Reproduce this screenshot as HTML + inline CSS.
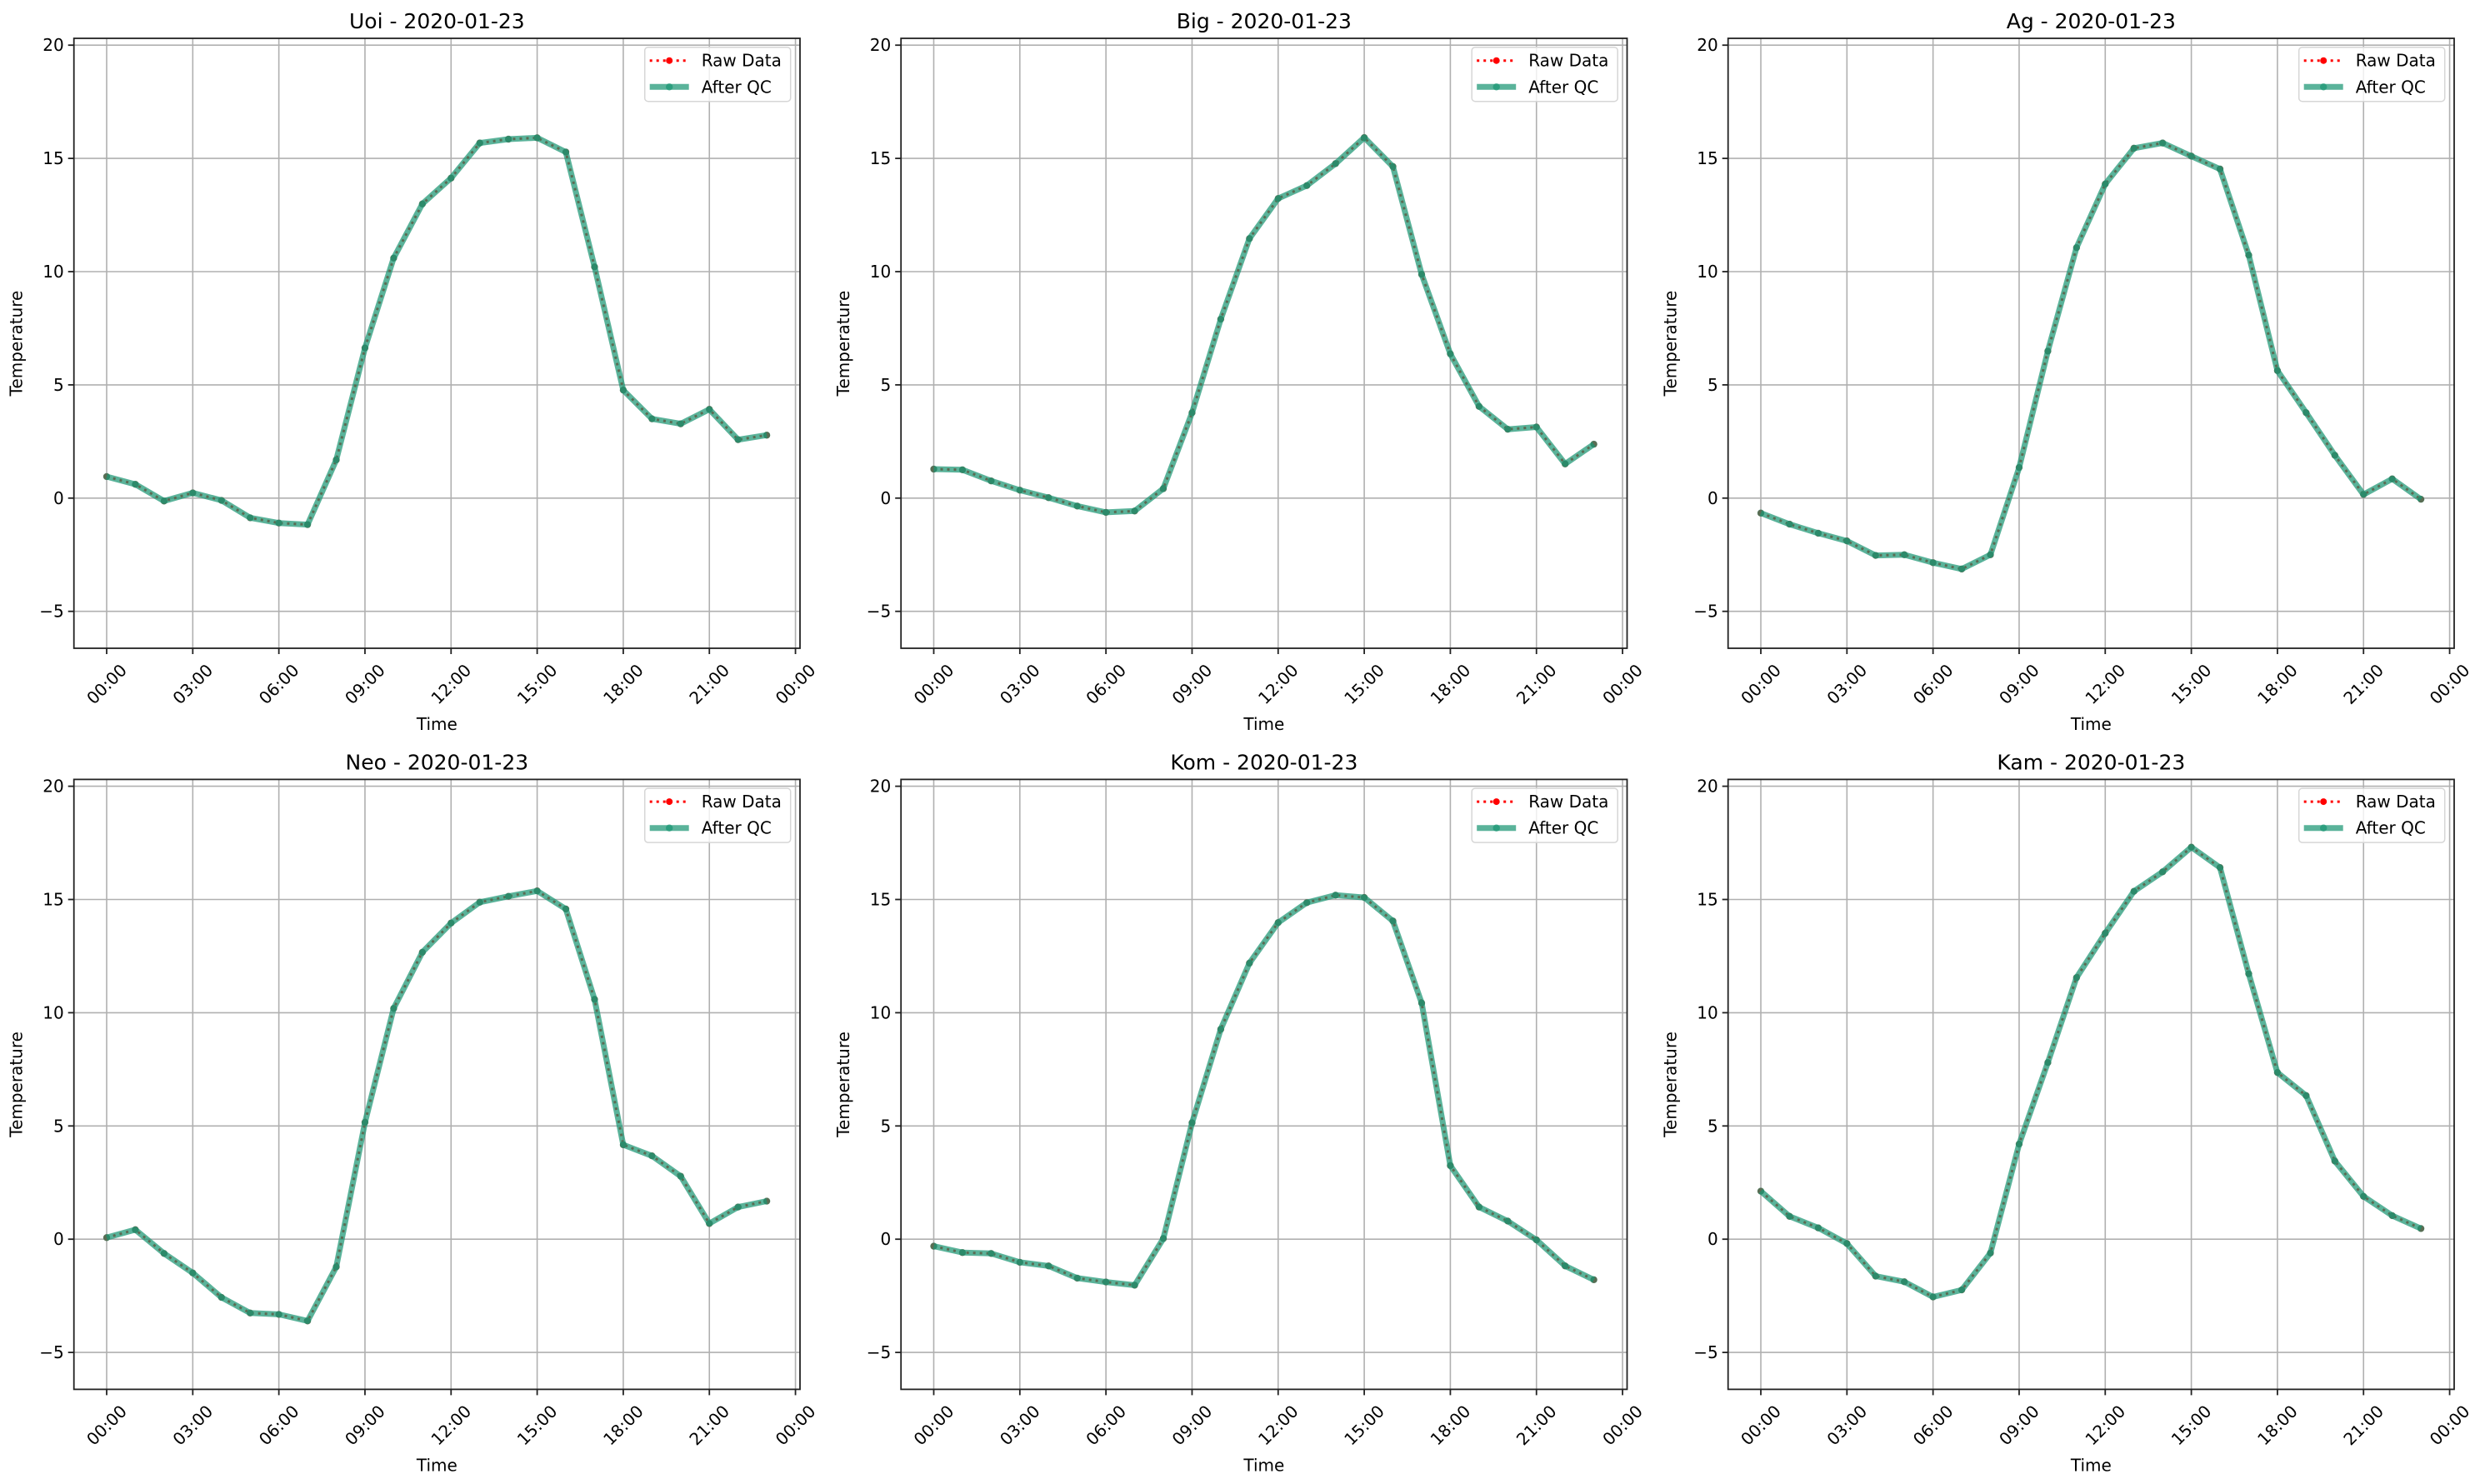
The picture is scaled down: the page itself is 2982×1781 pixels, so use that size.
<!DOCTYPE html>
<html><head><meta charset="utf-8">
<style>
html,body{margin:0;padding:0;background:#fff;}
svg{display:block;font-family:"DejaVu Sans","Liberation Sans",sans-serif;}
</style></head>
<body>
<svg id="s" width="2982" height="1781" viewBox="0 0 2982 1781" xmlns="http://www.w3.org/2000/svg"></svg>
<script>
const data = [
 ["Uoi",[0.95,0.61,-0.13,0.23,-0.1,-0.87,-1.1,-1.17,1.69,6.63,10.6,12.99,14.13,15.68,15.85,15.91,15.28,10.21,4.77,3.5,3.28,3.92,2.58,2.78]],
 ["Big",[1.28,1.25,0.76,0.35,0.02,-0.35,-0.63,-0.57,0.42,3.77,7.9,11.46,13.23,13.8,14.77,15.92,14.64,9.88,6.37,4.05,3.04,3.14,1.51,2.38]],
 ["Ag",[-0.66,-1.15,-1.55,-1.89,-2.53,-2.5,-2.85,-3.13,-2.5,1.35,6.49,11.06,13.87,15.45,15.68,15.1,14.53,10.73,5.63,3.77,1.89,0.16,0.85,-0.05]],
 ["Neo",[0.07,0.42,-0.63,-1.49,-2.57,-3.26,-3.32,-3.61,-1.22,5.16,10.19,12.67,13.96,14.88,15.14,15.38,14.58,10.59,4.17,3.68,2.78,0.69,1.42,1.68]],
 ["Kom",[-0.31,-0.59,-0.63,-1.02,-1.18,-1.72,-1.89,-2.03,0.03,5.14,9.27,12.19,13.98,14.86,15.19,15.09,14.05,10.43,3.25,1.42,0.8,-0.03,-1.18,-1.79]],
 ["Kam",[2.12,1.01,0.5,-0.19,-1.63,-1.88,-2.55,-2.24,-0.61,4.2,7.8,11.55,13.51,15.36,16.22,17.31,16.41,11.72,7.36,6.34,3.45,1.89,1.04,0.47]]
];
let o = "";
data.forEach((d,i)=>{
  const c=i%3, r=Math.floor(i/3);
  const L=88.7+992.5*c, R=L+871.3, T=46+889.4*r, B=778+889.4*r;
  const X=h=>L+39.3+34.44*h;
  const Y=v=>(733.7+889.4*r)-(v+5)*27.18;
  for(let h=0;h<=24;h+=3){const x=X(h);o+=`<line x1="${x}" y1="${T}" x2="${x}" y2="${B}" stroke="#b0b0b0" stroke-width="1.6"/>`;}
  for(let v=-5;v<=20;v+=5){const y=Y(v);o+=`<line x1="${L}" y1="${y}" x2="${R}" y2="${y}" stroke="#b0b0b0" stroke-width="1.6"/>`;}
  const pts=d[1].map((v,h)=>`${X(h).toFixed(1)},${Y(v).toFixed(1)}`).join(" ");
  o+=`<polyline points="${pts}" fill="none" stroke="#ff0000" stroke-width="3" stroke-dasharray="3,5"/>`;
  d[1].forEach((v,h)=>{o+=`<circle cx="${X(h)}" cy="${Y(v)}" r="4" fill="#ff0000"/>`;});
  o+=`<polyline points="${pts}" fill="none" stroke="rgb(26,150,115)" stroke-opacity="0.72" stroke-width="7" stroke-linejoin="round"/>`;
  d[1].forEach((v,h)=>{o+=`<circle cx="${X(h)}" cy="${Y(v)}" r="4.2" fill="rgb(26,150,115)" fill-opacity="0.72"/>`;});
  o+=`<rect x="${L}" y="${T}" width="${R-L}" height="${B-T}" fill="none" stroke="#222" stroke-width="1.8"/>`;
  for(let h=0;h<=24;h+=3){const x=X(h);const lab=String(h%24).padStart(2,"0")+":00";
    o+=`<line x1="${x}" y1="${B}" x2="${x}" y2="${B+7}" stroke="#222" stroke-width="1.8"/>`;
    o+=`<text x="${x}" y="${821+889.4*r+7}" font-size="20" text-anchor="middle" transform="rotate(-45 ${x} ${821+889.4*r})">${lab}</text>`;}
  for(let v=-5;v<=20;v+=5){const y=Y(v);
    o+=`<line x1="${L-7}" y1="${y}" x2="${L}" y2="${y}" stroke="#222" stroke-width="1.8"/>`;
    o+=`<text x="${L-12}" y="${y+7}" font-size="20" text-anchor="end">${v<0?"\u2212"+(-v):v}</text>`;}
  o+=`<text x="${(L+R)/2}" y="${34+889.4*r}" font-size="25" text-anchor="middle">${d[0]} - 2020-01-23</text>`;
  o+=`<text x="${(L+R)/2}" y="${876+889.4*r}" font-size="20" text-anchor="middle">Time</text>`;
  const ly=(T+B)/2, lx=L-62;
  o+=`<text x="${lx}" y="${ly}" font-size="20" text-anchor="middle" transform="rotate(-90 ${lx} ${ly})">Temperature</text>`;
  o+=`<rect x="${L+685}" y="${T+10.7}" width="175" height="65" rx="4" fill="#fff" fill-opacity="0.8" stroke="#d6d6d6" stroke-width="1.5"/>`;
  const y1=T+26.7, y2=T+58.3;
  o+=`<line x1="${L+691}" y1="${y1}" x2="${L+738}" y2="${y1}" stroke="#ff0000" stroke-width="3" stroke-dasharray="3,5"/>`;
  o+=`<circle cx="${L+714.5}" cy="${y1}" r="4" fill="#ff0000"/>`;
  o+=`<line x1="${L+691}" y1="${y2}" x2="${L+738}" y2="${y2}" stroke="rgb(26,150,115)" stroke-opacity="0.72" stroke-width="7"/>`;
  o+=`<circle cx="${L+714.5}" cy="${y2}" r="4.2" fill="rgb(26,150,115)" fill-opacity="0.72"/>`;
  o+=`<text x="${L+753}" y="${y1+7}" font-size="20">Raw Data</text>`;
  o+=`<text x="${L+753}" y="${y2+7}" font-size="20">After QC</text>`;
});
document.getElementById("s").innerHTML=o;
</script>
</body></html>
